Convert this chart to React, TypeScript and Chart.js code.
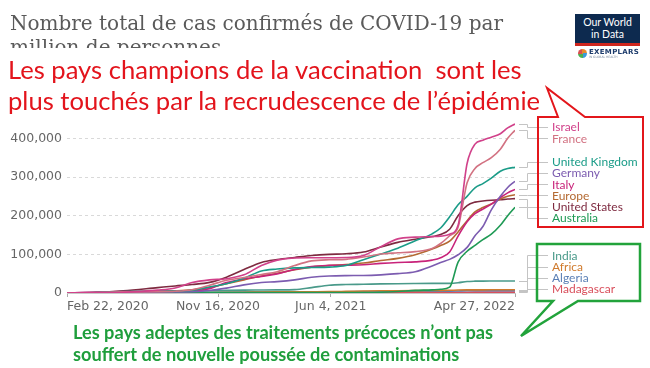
import React, { useEffect, useRef } from "react";
import { Chart, registerables } from "chart.js";

Chart.register(...registerables);

// x values: days since Feb 22, 2020
const days = [0, 39, 100, 161, 192, 222, 253, 283, 314, 345, 373, 404, 434, 465, 495, 526, 557, 587, 618, 648, 663, 679, 694, 710, 724, 738, 753, 769, 782, 795];
const tickDays = [0, 268, 468, 795];
const tickLabels = ["Feb 22, 2020", "Nov 16, 2020", "Jun 4, 2021", "Apr 27, 2022"];
const yTickValues = [0, 100000, 200000, 300000, 400000];

const seriesNames = ["Israel", "France", "United Kingdom", "Germany", "Italy", "Europe", "United States", "Australia", "India", "Africa", "Algeria", "Madagascar"];
const seriesColors = ["#d1418a", "#d27282", "#1b9c88", "#7c5cb0", "#c8237a", "#b46a33", "#7e2a40", "#1f9a55", "#4a9a8a", "#d07b2e", "#5a7fb5", "#d94f5c"];

const israel = [0, 700, 1900, 7500, 13000, 27000, 34000, 37000, 47000, 71000, 85000, 90500, 91000, 91300, 91700, 97000, 120000, 140000, 144500, 145800, 147000, 152000, 175000, 335000, 385000, 395000, 403000, 412000, 427000, 437000];
const france = [0, 850, 2800, 3300, 4500, 8600, 20000, 33000, 40000, 48000, 55000, 71000, 83000, 86000, 87000, 93000, 101000, 104000, 107000, 115000, 128000, 148000, 170000, 285000, 322000, 337000, 350000, 372000, 400000, 421000];
const unitedKingdom = [0, 400, 4000, 4600, 5000, 7000, 15500, 24000, 38000, 57000, 62000, 65000, 66000, 67000, 71000, 86000, 101000, 116000, 135000, 153000, 168000, 197000, 228000, 250000, 272000, 283000, 297000, 315000, 322000, 325000];
const germany = [0, 900, 2200, 2500, 2900, 3500, 6400, 12700, 21000, 27000, 29500, 34000, 40600, 44000, 45000, 45300, 47000, 50000, 55000, 70000, 79000, 87000, 99000, 118000, 148000, 172000, 215000, 250000, 273000, 289000];
const italy = [0, 1800, 3900, 4100, 4500, 5300, 11300, 27000, 36000, 43000, 49500, 61000, 68700, 71400, 72000, 73000, 76600, 79000, 80400, 85000, 91000, 106000, 147000, 184000, 205000, 217000, 230000, 247000, 259000, 268000];
const europe = [0, 600, 2800, 4300, 5400, 8000, 14500, 24000, 34000, 44000, 51000, 60000, 67000, 71000, 73500, 77500, 84000, 89500, 99000, 114000, 123000, 134000, 158000, 187000, 210000, 221000, 230000, 243000, 250000, 254000];
const unitedStates = [0, 650, 5500, 14000, 18300, 22000, 27500, 41000, 60500, 79000, 86500, 92000, 97000, 100000, 101500, 106000, 119000, 131000, 139000, 146000, 151000, 165000, 200000, 226000, 235000, 238000, 240000, 241000, 243000, 244000];
const australia = [0, 190, 280, 660, 980, 1060, 1080, 1090, 1110, 1120, 1130, 1150, 1160, 1170, 1200, 1400, 2100, 4000, 6700, 8100, 9500, 15000, 80000, 108000, 123000, 138000, 152000, 175000, 200000, 222000];
const india = [0, 1, 140, 1200, 2600, 4600, 5900, 6700, 7400, 7700, 8000, 8800, 14000, 20100, 21800, 22600, 23500, 24100, 24500, 24800, 24900, 25000, 26500, 29700, 30600, 30800, 30850, 30900, 30900, 30950];
const africa = [0, 4, 110, 650, 900, 1100, 1300, 1600, 2000, 2600, 2900, 3100, 3300, 3500, 4200, 5000, 5700, 6000, 6200, 6300, 6600, 7000, 7600, 8000, 8150, 8200, 8250, 8300, 8320, 8350];
const algeria = [0, 20, 210, 710, 1000, 1180, 1320, 1900, 2270, 2450, 2580, 2660, 2800, 2970, 3200, 4000, 4500, 4600, 4650, 4750, 4800, 4900, 5300, 5750, 5900, 5930, 5950, 5960, 5970, 5980];
const madagascar = [0, 2, 30, 370, 520, 590, 610, 630, 640, 700, 750, 1200, 1400, 1500, 1520, 1530, 1540, 1550, 1560, 1600, 1650, 1700, 1950, 2100, 2200, 2230, 2250, 2270, 2290, 2300];

const seriesValues = [israel, france, unitedKingdom, germany, italy, europe, unitedStates, australia, india, africa, algeria, madagascar];

const endLabelsPlugin = {
  id: "endLabels",
  afterDatasetsDraw(chart: any) {
    const { ctx, chartArea, scales } = chart;
    const xs = scales.x;
    const ys = scales.y;
    const items = chart.data.datasets.map((ds: any) => {
      const last = ds.data[ds.data.length - 1];
      return { name: ds.label, color: ds.borderColor, xEnd: xs.getPixelForValue(last.x), yEnd: ys.getPixelForValue(last.y), yLabel: 0 };
    });
    const sorted = [...items].sort((a: any, b: any) => a.yEnd - b.yEnd);
    const gap = 11.2;
    const top = chartArea.top + 8;
    const bottom = chartArea.bottom - 4;
    let groups: any[] = sorted.map((it: any) => ({ items: [it], center: it.yEnd, start: 0 }));
    const place = () => {
      for (const g of groups) {
        let s = g.center - ((g.items.length - 1) * gap) / 2;
        s = Math.max(top, Math.min(bottom - (g.items.length - 1) * gap, s));
        g.start = s;
      }
    };
    let changed = true;
    while (changed) {
      changed = false;
      place();
      for (let k = 0; k < groups.length - 1; k++) {
        const a = groups[k];
        const b = groups[k + 1];
        const aEnd = a.start + (a.items.length - 1) * gap;
        if (b.start - aEnd < gap - 0.01) {
          const its = [...a.items, ...b.items];
          const merged = { items: its, center: its.reduce((s: number, it: any) => s + it.yEnd, 0) / its.length, start: 0 };
          groups.splice(k, 2, merged);
          changed = true;
          break;
        }
      }
    }
    place();
    for (const g of groups) g.items.forEach((it: any, i: number) => (it.yLabel = g.start + i * gap));

    const elbowX = chartArea.right + 12;
    const labelX = chartArea.right + 37;
    ctx.save();
    ctx.lineWidth = 1;
    ctx.strokeStyle = "#c4c4c4";
    for (const it of items) {
      ctx.beginPath();
      ctx.moveTo(it.xEnd + 4, Math.round(it.yEnd) + 0.5);
      ctx.lineTo(elbowX + 0.5, Math.round(it.yEnd) + 0.5);
      ctx.lineTo(elbowX + 0.5, Math.round(it.yLabel) + 0.5);
      ctx.lineTo(labelX - 4, Math.round(it.yLabel) + 0.5);
      ctx.stroke();
    }
    ctx.font = "12px Lato";
    ctx.textBaseline = "middle";
    ctx.textAlign = "left";
    for (const it of items) {
      ctx.fillStyle = it.color;
      ctx.fillText(it.name, labelX, it.yLabel + 0.5);
    }
    ctx.restore();
  },
};

function CovidChart() {
  const ref = useRef<HTMLCanvasElement | null>(null);
  useEffect(() => {
    if (!ref.current) return;
    const tickFont = { family: "'DejaVu Sans'", size: 12.5 };
    const chart = new Chart(ref.current, {
      type: "line",
      data: {
        datasets: seriesNames.map((name, i) => ({
          label: name,
          data: days.map((d, j) => ({ x: d, y: seriesValues[i][j] })),
          borderColor: seriesColors[i],
          backgroundColor: seriesColors[i],
          borderWidth: 1.6,
          pointRadius: 0,
          fill: false,
          cubicInterpolationMode: "monotone",
        })),
      },
      options: {
        animation: false,
        responsive: false,
        events: [],
        layout: { padding: { left: 0, top: 119, right: 135, bottom: 55 } },
        plugins: { legend: { display: false }, tooltip: { enabled: false } },
        scales: {
          x: {
            type: "linear",
            min: 0,
            max: 795,
            afterBuildTicks: (s: any) => {
              s.ticks = tickDays.map((v) => ({ value: v }));
            },
            afterFit: (s: any) => {
              s.height = 20;
            },
            ticks: {
              autoSkip: false,
              maxRotation: 0,
              align: "inner",
              padding: 2,
              color: "#666",
              font: tickFont,
              callback: (v: any) => tickLabels[tickDays.indexOf(Number(v))],
            },
            grid: { drawOnChartArea: false, drawTicks: true, tickLength: 4, color: "#aaa" },
            border: { display: true, color: "#c8c8c8", width: 1 },
          },
          y: {
            type: "linear",
            min: 0,
            max: 450000,
            afterBuildTicks: (s: any) => {
              s.ticks = yTickValues.map((v) => ({ value: v }));
            },
            afterFit: (s: any) => {
              s.width = 67;
            },
            ticks: {
              padding: 5,
              color: "#666",
              font: tickFont,
              callback: (v: any) => Number(v).toLocaleString("en-US"),
            },
            grid: {
              drawTicks: false,
              color: (c: any) => (c.tick && c.tick.value === 0 ? "rgba(0,0,0,0)" : "#d9d9d9"),
            },
            border: { display: false, dash: [3, 3] },
          },
        },
      },
      plugins: [endLabelsPlugin],
    } as any);
    return () => chart.destroy();
  }, []);
  return <canvas ref={ref} width={650} height={368} style={{ position: "absolute", left: 0, top: 0 }} />;
}

export default function App() {
  return (
    <div style={{ position: "absolute", left: 0, top: 0, width: 650, height: 368, background: "#fff", overflow: "hidden" }}>
      <CovidChart />
      <div
        style={{
          position: "absolute",
          left: 10,
          top: 11,
          width: 560,
          height: 37,
          overflow: "hidden",
          fontFamily: "'DejaVu Serif', serif",
          fontSize: 20,
          lineHeight: "24px",
          color: "#5a5a5a",
          whiteSpace: "nowrap",
        }}
      >
        Nombre total de cas confirmés de COVID-19 par
        <br />
        million de personnes
      </div>
      <div style={{ position: "absolute", left: 0, top: 48, width: 552, height: 70, background: "#fff" }} />
      <div
        style={{
          position: "absolute",
          left: 8,
          top: 54,
          fontFamily: "Lato, sans-serif",
          fontSize: 25.6,
          lineHeight: "31px",
          color: "#e3141c",
          whiteSpace: "pre",
        }}
      >
        {"Les pays champions de la vaccination  sont les\nplus touchés par la recrudescence de l’épidémie"}
      </div>
      <div
        style={{
          position: "absolute",
          left: 73,
          top: 321,
          fontFamily: "Lato, sans-serif",
          fontWeight: 700,
          fontSize: 18.2,
          lineHeight: "22px",
          color: "#1f9e3c",
          whiteSpace: "pre",
        }}
      >
        {"Les pays adeptes des traitements précoces n’ont pas\nsouffert de nouvelle poussée de contaminations"}
      </div>
      <div
        style={{
          position: "absolute",
          left: 575,
          top: 14,
          width: 65,
          height: 27,
          background: "#0d2a4f",
          borderBottom: "3px solid #ce261e",
          color: "#fff",
          fontFamily: "Lato, sans-serif",
          fontSize: 10.5,
          lineHeight: "12px",
          textAlign: "center",
          paddingTop: 2,
          boxSizing: "content-box",
        }}
      >
        Our World
        <br />
        in Data
      </div>
      <div style={{ position: "absolute", left: 578, top: 49, width: 9, height: 9, borderRadius: "50%", background: "conic-gradient(#e88a2d 0 25%, #3a9ad9 0 50%, #4caf50 0 75%, #d94f4f 0)" }} />
      <div style={{ position: "absolute", left: 589, top: 48, fontFamily: "'DejaVu Sans', sans-serif", fontWeight: 700, fontSize: 7, lineHeight: "8px", color: "#1b3a6b", letterSpacing: 0.3 }}>
        EXEMPLARS
      </div>
      <div style={{ position: "absolute", left: 589, top: 56, fontFamily: "'DejaVu Sans', sans-serif", fontSize: 3, lineHeight: "3px", color: "#7a8aa0" }}>
        IN GLOBAL HEALTH
      </div>
      <svg width={650} height={368} style={{ position: "absolute", left: 0, top: 0, pointerEvents: "none" }}>
        <polygon points="538,117 558,117 547,88 585,117 643,117 643,227 538,227" fill="none" stroke="#e3161b" strokeWidth={2} />
        <polygon points="537,244 640,244 640,301 578,301 521,336 553,301 537,301" fill="none" stroke="#22a33b" strokeWidth={2.5} />
      </svg>
    </div>
  );
}
